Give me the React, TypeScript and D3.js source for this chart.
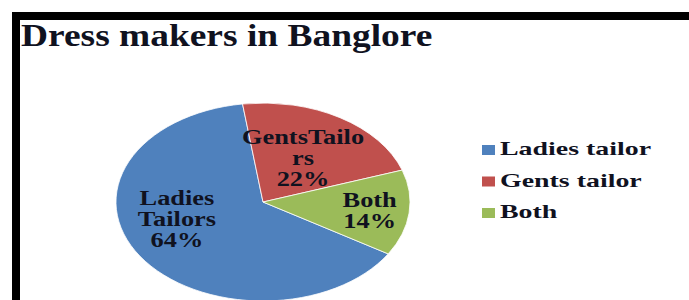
import React, { useEffect, useRef } from 'react';
import * as d3 from 'd3';

// chart data
const categories = ['Ladies tailor', 'Gents tailor', 'Both'];
const shares = [64, 22, 14];
const sliceLabels = [['Ladies', 'Tailors'], ['GentsTailo', 'rs'], ['Both']];
const colors = ['#4F81BD', '#C0504D', '#9BBB59'];
const title = 'Dress makers in Banglore';

const W = 689;
const H = 300;

export default function App() {
  const ref = useRef<SVGSVGElement>(null);

  useEffect(() => {
    const svg = d3.select(ref.current).attr('width', W).attr('height', H).html('');

    svg.append('rect').attr('width', W).attr('height', H).attr('fill', '#fff');

    // black frame (top + left only, the rest is cropped)
    svg.append('rect').attr('x', 12).attr('y', 12).attr('width', W - 12).attr('height', 8).attr('fill', '#000');
    svg.append('rect').attr('x', 12).attr('y', 12).attr('width', 8).attr('height', H - 12).attr('fill', '#000');

    const ink = '#10121f';

    svg.append('g')
      .attr('transform', 'translate(21,46) scale(1.17,1)')
      .append('text')
      .attr('font-family', '"Liberation Serif", "Times New Roman", serif')
      .attr('font-weight', 'bold')
      .attr('font-size', 32)
      .attr('fill', ink)
      .text(title);

    // pie is stretched sideways like the source picture
    const cx = 263, cy = 202, R = 99, sx = 1.485;
    const start = (121.6 / 180) * Math.PI;

    const pie = d3.pie<number>().sort(null).startAngle(start).endAngle(start + 2 * Math.PI);
    const arcs = pie(shares);
    const arc = d3.arc<d3.PieArcDatum<number>>().innerRadius(0).outerRadius(R);

    const g = svg.append('g').attr('transform', `translate(${cx},${cy}) scale(${sx},1)`);
    g.selectAll('path')
      .data(arcs)
      .enter().append('path')
      .attr('d', arc)
      .attr('fill', (d, i) => colors[i])
      .attr('stroke', '#fff')
      .attr('stroke-width', 0.8)
      .attr('vector-effect', 'non-scaling-stroke');

    // data labels
    const labelR = [0.61, 0.52, 0.73];
    const nudge = [[-11, -16], [0, 0], [0, 0]];
    const lineH = 21;
    arcs.forEach((a, i) => {
      const la = d3.arc<d3.PieArcDatum<number>>().innerRadius(R * labelR[i]).outerRadius(R * labelR[i]);
      const [px, py] = la.centroid(a);
      const lines = [...sliceLabels[i], `${shares[i]}%`];
      const x = cx + px * sx + nudge[i][0];
      const y0 = cy + py + nudge[i][1] + 7 - ((lines.length - 1) * lineH) / 2;
      const t = svg.append('g').attr('transform', `translate(${x},${y0}) scale(1.32,1)`);
      lines.forEach((s, k) => {
        t.append('text')
          .attr('y', k * lineH)
          .attr('text-anchor', 'middle')
          .attr('font-family', '"Liberation Serif", "Times New Roman", serif')
          .attr('font-weight', 'bold')
          .attr('font-size', 20)
          .attr('fill', ink)
          .text(s);
      });
    });

    // legend
    const ly = d3.scalePoint<string>().domain(categories).range([155, 218]);
    const lg = svg.append('g');
    categories.forEach((c, i) => {
      lg.append('rect')
        .attr('x', 482).attr('y', ly(c)! - 10)
        .attr('width', 13).attr('height', 10)
        .attr('fill', colors[i]);
      lg.append('g')
        .attr('transform', `translate(500,${ly(c)}) scale(1.55,1)`)
        .append('text')
        .attr('font-family', '"Liberation Serif", "Times New Roman", serif')
        .attr('font-weight', 'bold')
        .attr('font-size', 18)
        .attr('fill', ink)
        .text(c);
    });
  }, []);

  return <svg ref={ref} style={{ position: 'fixed', left: 0, top: 0, display: 'block' }} />;
}
